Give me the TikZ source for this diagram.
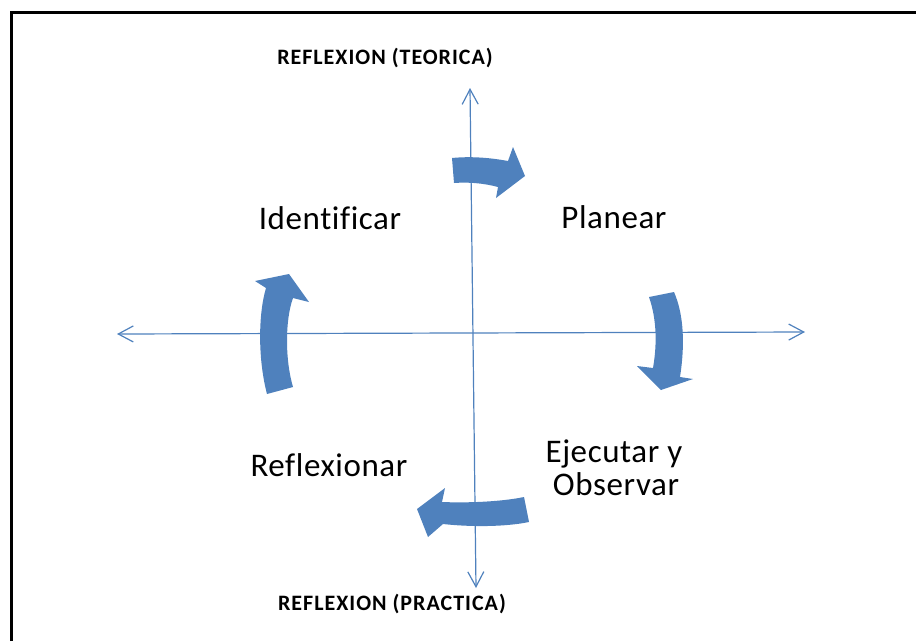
\documentclass[tikz,border=0pt]{standalone}
\usepackage{fontspec}
\setmainfont{Carlito}[Ligatures=NoCommon]
\newfontfamily\phasefont{Carlito}[Ligatures=NoCommon, LetterSpace=1.8]
\newfontfamily\polefont{Carlito}[Ligatures=NoCommon, LetterSpace=4.5]
\usetikzlibrary{arrows.meta}
\definecolor{officeblue}{RGB}{79,129,189}
\begin{document}
\begin{tikzpicture}[x=1pt,y=-1pt,
  axisline/.style={draw=officeblue, line width=1.2pt,
    arrows={Straight Barb[length=15pt,width=16pt,line width=1.2pt]-Straight Barb[length=15pt,width=16pt,line width=1.2pt]}},
  cyclearrow/.style={fill=officeblue, draw=none},
  phase/.style={font=\phasefont\fontsize{33}{34}\selectfont, inner sep=0pt, anchor=base, align=center},
  pole/.style={font=\polefont\bfseries\fontsize{22}{24}\selectfont, inner sep=0pt, anchor=base}]
\useasboundingbox (0,0) rectangle (916,641);

% frame (open towards the right and bottom)
\draw[line width=3pt] (11,641) -- (11,12) -- (916,12);

% curved cycle arrows
\fill[cyclearrow] (452,158) .. controls (472,156) and (492,158) .. (508,161)
  -- (513,147) -- (525,176) -- (496,198) -- (498,187)
  .. controls (483,183) and (468,182) .. (454,183) -- cycle;
\fill[cyclearrow] (649,297) .. controls (657,320) and (657,345) .. (653,368)
  -- (637,366) -- (661,390) -- (693,379) -- (680,377)
  .. controls (685,345) and (684,315) .. (674,292) -- cycle;
\fill[cyclearrow] (524,497) .. controls (500,502) and (465,503) .. (442,502)
  -- (445,488) -- (417,509) -- (428,537) -- (443,524)
  .. controls (470,527) and (505,527) .. (529,522) -- cycle;
\fill[cyclearrow] (267,394) .. controls (258,360) and (258,315) .. (266,288)
  -- (255,281) -- (289,274) -- (309,302) -- (293,298)
  .. controls (285,320) and (285,360) .. (293,387) -- cycle;

% axes
\coordinate (top) at (470,88);
\coordinate (bottom) at (476,588);
\coordinate (left) at (117,334);
\coordinate (right) at (805,332);
\draw[axisline] (bottom) -- (top);
\draw[axisline] (left) -- (right);

% pole labels
\node[pole] (teorica) at (385,64) {REFLEXION (TEORICA)};
\node[pole] (practica) at (392,610) {REFLEXION (PRACTICA)};

% phase labels
\node[phase] (identificar) at (330,229) {Identificar};
\node[phase] (planear) at (614,228) {Planear};
\node[phase] (reflexionar) at (329,476) {Reflexionar};
\node[phase] (ejecutar) at (614,462) {Ejecutar y};
\node[phase] (observar) at (616,495) {Observar};
\end{tikzpicture}
\end{document}
